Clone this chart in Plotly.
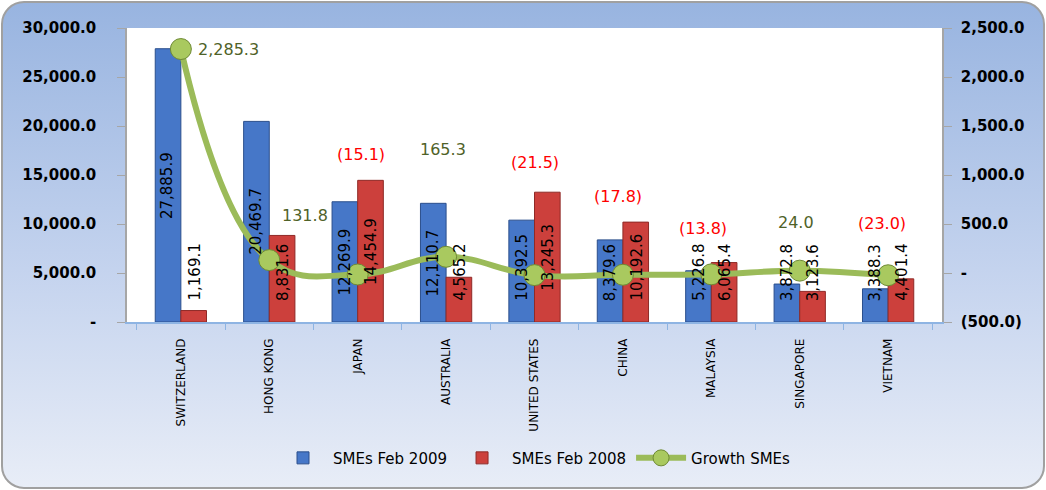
import base64
import plotly.graph_objects as go

# data
countries = ["SWITZERLAND", "HONG KONG", "JAPAN", "AUSTRALIA", "UNITED STATES",
             "CHINA", "MALAYSIA", "SINGAPORE", "VIETNAM"]
smes_2009 = [27885.9, 20469.7, 12269.9, 12110.7, 10392.5, 8379.6, 5226.8, 3872.8, 3388.3]
smes_2008 = [1169.1, 8831.6, 14454.9, 4565.2, 13245.3, 10192.6, 6065.4, 3123.6, 4401.4]
growth = [2285.3, 131.8, -15.1, 165.3, -21.5, -17.8, -13.8, 24.0, -23.0]

left_ticks = [0, 5000, 10000, 15000, 20000, 25000, 30000]
left_labels = ["-", "5,000.0", "10,000.0", "15,000.0", "20,000.0", "25,000.0", "30,000.0"]
right_ticks = [-500, 0, 500, 1000, 1500, 2000, 2500]
right_labels = ["(500.0)", "-", "500.0", "1,000.0", "1,500.0", "2,000.0", "2,500.0"]

W, H = 1046, 490
ML, MR, MT, MB = 127, 104, 28, 168
PW, PH = W - ML - MR, H - MT - MB
BARGAP = 0.42
YMAX = 30000

FONT = "DejaVu Sans"


def fmt(v):
    s = f"{abs(v):,.1f}"
    return f"({s})" if v < 0 else s


# rounded gradient background as an svg image
svg = f"""<svg xmlns='http://www.w3.org/2000/svg' width='{W}' height='{H}'>
<defs><linearGradient id='g' x1='0' y1='0' x2='0' y2='1'>
<stop offset='0' stop-color='#98b4e0'/><stop offset='0.55' stop-color='#c4d3ee'/>
<stop offset='1' stop-color='#e8edf7'/></linearGradient></defs>
<rect x='2' y='2' width='{W-4}' height='{H-4}' rx='22' ry='22' fill='url(#g)' stroke='#a0a0a0' stroke-width='2'/>
</svg>"""
bg_uri = "data:image/svg+xml;base64," + base64.b64encode(svg.encode()).decode()

fig = go.Figure()

fig.add_trace(go.Bar(
    x=countries, y=smes_2009, name="SMEs Feb 2009",
    marker=dict(color="#4677c8", line=dict(color="#2b4f8c", width=1)),
))
fig.add_trace(go.Bar(
    x=countries, y=smes_2008, name="SMEs Feb 2008",
    marker=dict(color="#cc403c", line=dict(color="#8f2a27", width=1)),
))
fig.add_trace(go.Scatter(
    x=countries, y=growth, name="Growth SMEs", yaxis="y2",
    mode="lines+markers",
    line=dict(color="#9bbb59", width=6, shape="spline", smoothing=1.2),
    marker=dict(size=21, color="#a9c95f", line=dict(color="#6f8a35", width=1)),
    cliponaxis=False,
))

# bar value labels, rotated; centred in the bar, but never lower than ~19px above the axis
bar_off = PW / len(countries) * (1 - BARGAP) / 4
px_per_unit = PH / YMAX
for series, sign in ((smes_2009, -1), (smes_2008, 1)):
    for c, v in zip(countries, series):
        if v / 2 * px_per_unit > 55:
            pos = dict(y=v / 2, yanchor="middle", yshift=0)
        else:
            pos = dict(y=0, yanchor="bottom", yshift=19)
        fig.add_annotation(
            x=c, xshift=sign * bar_off, text=fmt(v), textangle=-90, showarrow=False,
            font=dict(family=FONT, size=15, color="black"), **pos,
        )

# growth labels (pixel offsets from each point)
shifts = [(48, 0), (36, 45), (3, 120), (-3, 107), (0, 113), (-5, 78), (-8, 46), (-4, 48), (-6, 52)]
for c, g, (dx, dy) in zip(countries, growth, shifts):
    fig.add_annotation(
        x=c, y=g, yref="y2", xshift=dx, yshift=dy, text=fmt(g), showarrow=False,
        font=dict(family=FONT, size=16, color="#ff0000" if g < 0 else "#4f6228"),
    )

fig.add_layout_image(dict(
    source=bg_uri, xref="paper", yref="paper",
    x=-ML / PW, y=1 + MT / PH, sizex=W / PW, sizey=H / PH,
    xanchor="left", yanchor="top", sizing="stretch", layer="below",
))
fig.add_shape(type="rect", xref="paper", yref="paper", x0=0, x1=1, y0=0, y1=1,
              fillcolor="white", line=dict(width=0), layer="below")

fig.update_layout(
    width=W, height=H,
    margin=dict(l=ML, r=MR, t=MT, b=MB),
    paper_bgcolor="white", plot_bgcolor="rgba(0,0,0,0)",
    barmode="group", bargap=BARGAP, bargroupgap=0,
    font=dict(family=FONT, color="black"),
    showlegend=True,
    legend=dict(orientation="h", x=0.5, xanchor="center", y=-0.463, yanchor="middle",
                font=dict(family=FONT, size=15, color="black"),
                bgcolor="rgba(0,0,0,0)", itemwidth=50, tracegroupgap=0),
    xaxis=dict(
        tickangle=-90, tickfont=dict(family=FONT, size=12, color="black"),
        ticks="outside", tickson="boundaries", ticklen=6, tickcolor="#8eb4e3",
        showline=True, linecolor="#8eb4e3", linewidth=1.5, showgrid=False,
        ticklabelstandoff=10,
    ),
    yaxis=dict(
        range=[0, YMAX], tickvals=left_ticks, ticktext=left_labels,
        tickfont=dict(family=FONT, size=15, color="black", weight="bold"),
        ticks="outside", ticklen=8, tickcolor="#a6a6a6",
        showline=True, linecolor="#a6a6a6", linewidth=1.5,
        showgrid=False, zeroline=False, ticklabelstandoff=18,
    ),
    yaxis2=dict(
        range=[-500, 2500], tickvals=right_ticks, ticktext=right_labels,
        overlaying="y", side="right",
        tickfont=dict(family=FONT, size=15, color="black", weight="bold"),
        ticks="outside", ticklen=8, tickcolor="#a6a6a6",
        showline=True, linecolor="#a6a6a6", linewidth=1.5,
        showgrid=False, zeroline=False, ticklabelstandoff=6,
    ),
)

fig.write_html("out.html", config={"displayModeBar": False},
               post_script="document.body.style.margin='0';")
